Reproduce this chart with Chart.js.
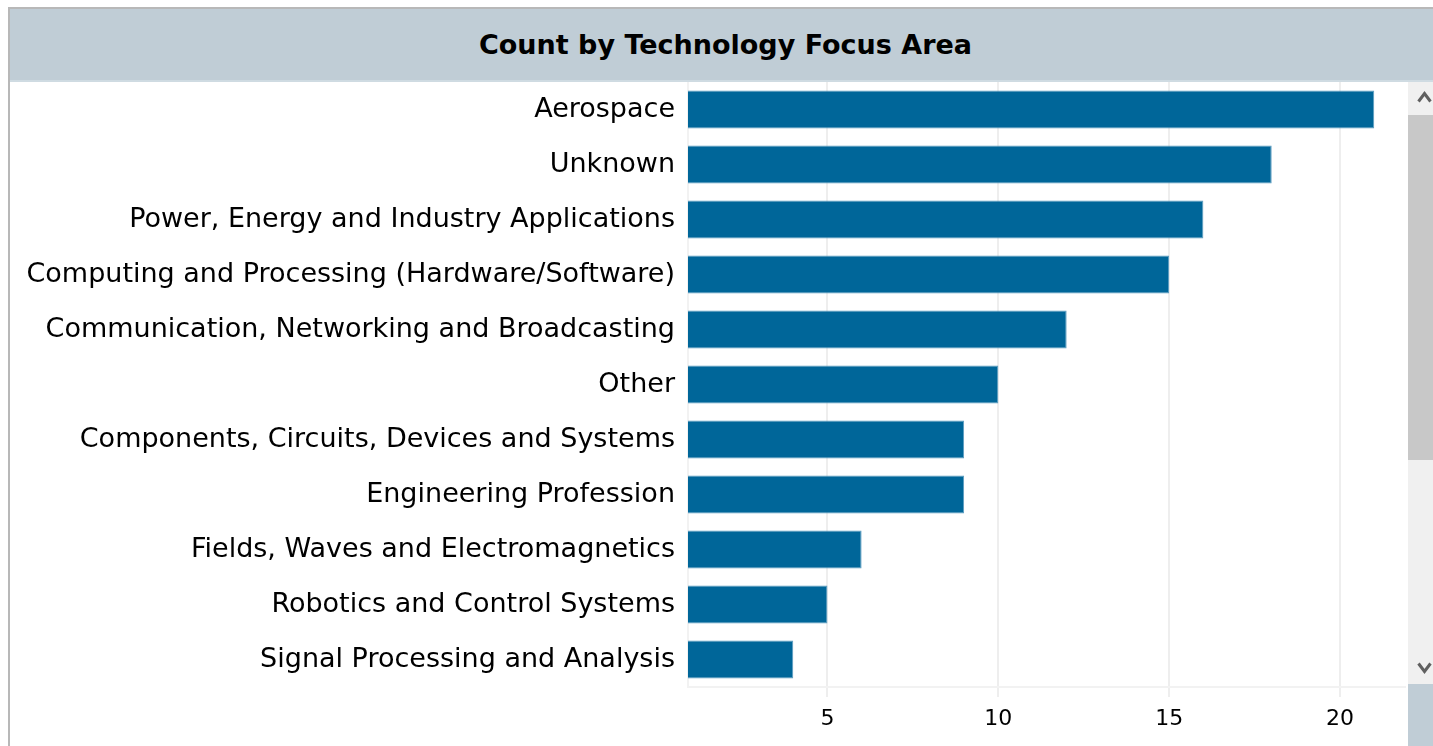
<!DOCTYPE html>
<html>
<head>
<meta charset="utf-8">
<script src="https://cdn.jsdelivr.net/npm/chart.js@4.4.1/dist/chart.umd.min.js"></script>
<style>
  html, body { margin: 0; padding: 0; background: #fff; overflow: hidden; }
  body { width: 1433px; height: 746px; position: relative; font-family: "DejaVu Sans", sans-serif; }
  #frame { position: absolute; left: 8px; top: 7px; width: 1440px; height: 760px; border-left: 2px solid #b8b8b8; border-top: 2px solid #b8b8b8; }
  #title { position: absolute; left: 10px; top: 9px; width: 1423px; height: 71px; background: #c0cdd6; border-bottom: 2px solid #cfdbe2;
           font-weight: bold; font-size: 27px; color: #000; text-align: center; line-height: 71px; }
  #title span { position: relative; left: 4px; }
  #wrap { position: absolute; left: 10px; top: 82px; width: 1398px; height: 664px; }
  #sbar { position: absolute; left: 1408px; top: 82px; width: 25px; height: 602px; background: #f0f0f0; }
  #thumb { position: absolute; left: 0; top: 33px; width: 25px; height: 345px; background: #c8c8c8; }
  #sfoot { position: absolute; left: 1408px; top: 684px; width: 25px; height: 62px; background: #c0cdd6; }
  .arr { position: absolute; left: 9px; width: 15px; height: 12px; }
</style>
</head>
<body>
<div id="frame"></div>
<div id="title"><span>Count by Technology Focus Area</span></div>
<div id="wrap"><canvas id="chart"></canvas></div>
<div id="sbar">
  <svg class="arr" style="top:9px" viewBox="0 0 15 12"><polyline points="1.5,10.5 7.5,2.5 13.5,10.5" fill="none" stroke="#606060" stroke-width="3"/></svg>
  <div id="thumb"></div>
  <svg class="arr" style="top:580px" viewBox="0 0 15 12"><polyline points="1.5,1.5 7.5,9.5 13.5,1.5" fill="none" stroke="#606060" stroke-width="3"/></svg>
</div>
<div id="sfoot"></div>
<script>
// values
const categories = [
  'Aerospace',
  'Unknown',
  'Power, Energy and Industry Applications',
  'Computing and Processing (Hardware/Software)',
  'Communication, Networking and Broadcasting',
  'Other',
  'Components, Circuits, Devices and Systems',
  'Engineering Profession',
  'Fields, Waves and Electromagnetics',
  'Robotics and Control Systems',
  'Signal Processing and Analysis'
];
const counts = [21, 18, 16, 15, 12, 10, 9, 9, 6, 5, 4];
const xTicks = [5, 10, 15, 20];

new Chart(document.getElementById('chart'), {
  type: 'bar',
  data: {
    labels: categories,
    datasets: [{
      data: counts,
      backgroundColor: '#006699',
      borderColor: '#5a9cc0',
      borderWidth: 1,
      categoryPercentage: 1,
      barPercentage: 0.69
    }]
  },
  options: {
    indexAxis: 'y',
    responsive: true,
    maintainAspectRatio: false,
    animation: false,
    layout: { padding: { top: 0, right: 3, left: 0, bottom: 0 } },
    plugins: { legend: { display: false }, tooltip: { enabled: false } },
    scales: {
      x: {
        min: 0.92,
        max: 21.9,
        afterBuildTicks: (scale) => { scale.ticks = xTicks.map(v => ({ value: v })); },
        afterFit: (scale) => { scale.height = 59; },
        grid: { color: '#eeeeee', lineWidth: 2, tickLength: 10, drawTicks: true },
        border: { display: true, color: '#f2f2f2', width: 2 },
        ticks: { color: '#000', padding: 9, font: { family: 'DejaVu Sans', size: 22 } }
      },
      y: {
        afterFit: (scale) => { scale.width = 678; scale.paddingTop = 0; scale.paddingBottom = 0; },
        grid: { display: false, drawTicks: false },
        border: { display: true, color: '#f2f2f2', width: 2 },
        ticks: { color: '#000', padding: 13, font: { family: 'DejaVu Sans', size: 27 } }
      }
    }
  }
});
</script>
</body>
</html>
